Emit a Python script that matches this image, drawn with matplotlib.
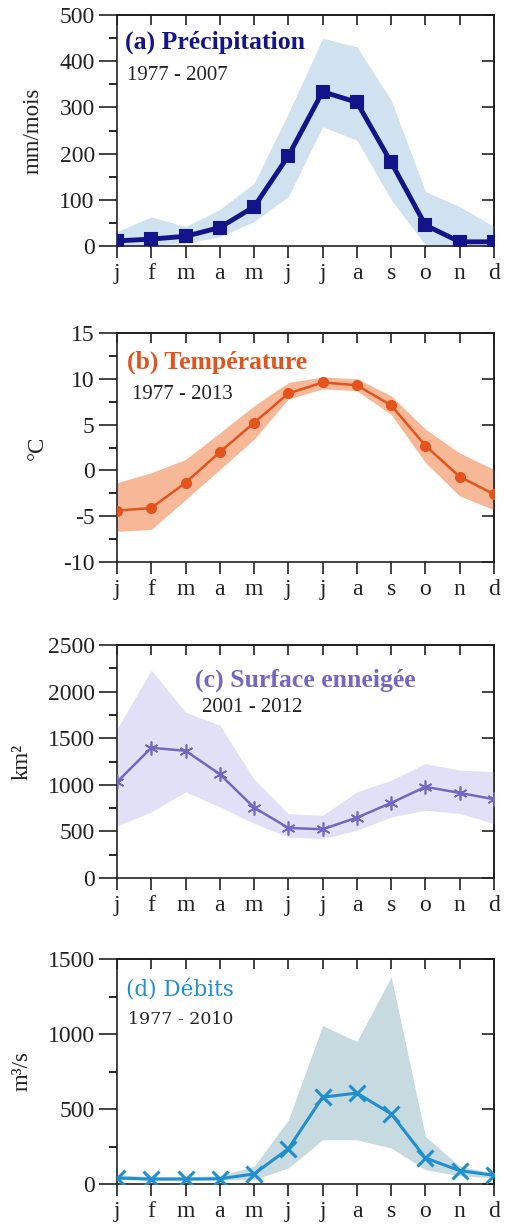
import matplotlib
matplotlib.use('Agg')
import matplotlib.pyplot as plt
import numpy as np
from matplotlib.ticker import MultipleLocator

plt.rcParams['axes.unicode_minus'] = False

months = ['j', 'f', 'm', 'a', 'm', 'j', 'j', 'a', 's', 'o', 'n', 'd']

# (a) precipitation, mm/mois
precip_mean = [11, 15, 21, 40, 85, 195, 334, 311, 181, 45, 9, 9]
precip_high = [31, 63, 42, 79, 136, 287, 450, 431, 316, 118, 85, 42]
precip_low = [0, 2, 6, 20, 53, 107, 258, 229, 100, 2, 0, 0]

# (b) temperature, degC
temp_mean = [-4.4, -4.1, -1.35, 2.0, 5.2, 8.4, 9.6, 9.3, 7.1, 2.7, -0.7, -2.6]
temp_high = [-1.35, -0.25, 1.2, 4.1, 7.05, 9.6, 10.2, 10.0, 8.15, 4.5, 1.9, 0.1]
temp_low = [-6.65, -6.45, -3.2, 0.1, 3.4, 7.8, 8.9, 8.7, 6.1, 0.85, -2.8, -4.3]

# (c) snow cover, km2
snow_mean = [1030, 1397, 1365, 1114, 756, 537, 523, 648, 806, 978, 913, 845]
snow_high = [1600, 2230, 1780, 1640, 1060, 691, 673, 924, 1049, 1228, 1157, 1140]
snow_low = [560, 709, 924, 763, 584, 440, 423, 512, 655, 727, 691, 584]

# (d) discharge, m3/s
flow_mean = [40, 33, 33, 35, 67, 235, 579, 606, 468, 173, 89, 58]
flow_high = [60, 50, 50, 55, 118, 428, 1056, 950, 1382, 317, 118, 73]
flow_low = [30, 25, 25, 28, 29, 107, 295, 295, 240, 95, 55, 40]

serif = 'Liberation Serif'


def panel(ax, mean, low, high, ylim, major, minor, line_c, band_c, marker,
          title, title_pos, period, period_pos, ylabel, label_x,
          tfont=serif, bold=True, lw=2, ms=7, mew=1.5, fs=17, tfs=18.5,
          pfs=15):
    x = np.arange(12)
    ax.fill_between(x, low, high, color=band_c, lw=0, zorder=1)
    ax.plot(x, mean, color=line_c, lw=lw, marker=marker, ms=ms, mew=mew,
            mfc=line_c, mec=line_c, zorder=3)
    ax.set_xlim(0, 11)
    ax.set_ylim(*ylim)
    ax.set_xticks(x)
    ax.set_xticklabels(months, fontfamily=serif, fontsize=fs)
    ax.yaxis.set_major_locator(MultipleLocator(major))
    ax.yaxis.set_minor_locator(MultipleLocator(minor))
    for lab in ax.get_yticklabels():
        lab.set_fontfamily(serif)
        lab.set_fontsize(fs)
    ax.tick_params(axis='y', which='major', direction='out', length=13,
                   width=1.2, right=False, pad=3, colors='#222222')
    ax.tick_params(axis='y', which='minor', direction='out', length=6,
                   width=1.2, right=False)
    ax.tick_params(axis='x', which='major', direction='out', length=8.5,
                   width=1.2, top=False, pad=4, colors='#222222')
    for sp in ax.spines.values():
        sp.set_linewidth(1.2)
        sp.set_color('#222222')
    # inward ticks on top and right
    sy = ax.secondary_yaxis('right')
    sy.yaxis.set_major_locator(MultipleLocator(major))
    sy.tick_params(direction='in', length=8.5, width=1.2, labelright=False,
                   colors='#222222')
    sy.spines['right'].set_linewidth(1.2)
    sx = ax.secondary_xaxis('top')
    sx.set_xticks(x)
    sx.tick_params(direction='in', length=7, width=1.2, labeltop=False,
                   colors='#222222')
    sx.spines['top'].set_linewidth(1.2)

    ax.text(title_pos[0], title_pos[1], title, transform=ax.transAxes,
            color=line_c, fontsize=tfs, fontfamily=tfont,
            fontweight='bold' if bold else 'normal', va='center', ha='left')
    ax.text(period_pos[0], period_pos[1], period, transform=ax.transAxes,
            color='#222222', fontsize=pfs, fontfamily=tfont,
            va='center', ha='left')
    ax.set_ylabel(ylabel, fontfamily=serif, fontsize=fs - 0.5, color='#222222')
    ax.yaxis.set_label_coords(label_x, 0.5)


fig = plt.figure(figsize=(5.07, 12.31), dpi=100)
W, H = 507, 1231
left = 117 / W
width = (494 - 117) / W
boxes = [(15, 246), (333, 562), (645, 878), (959, 1184)]
axes = []
for top, bot in boxes:
    axes.append(fig.add_axes([left, 1 - bot / H, width, (bot - top) / H]))

panel(axes[0], precip_mean, precip_low, precip_high, (0, 500), 100, 50,
      '#14148a', '#d0e2f0', 's', '(a) Précipitation', (0.021, 0.88),
      '1977 - 2007', (0.027, 0.74), 'mm/mois', -0.195, lw=3.5, ms=8)

panel(axes[1], temp_mean, temp_low, temp_high, (-10, 15), 5, 2.5,
      '#e2541c', '#f7b898', 'o', '(b) Température', (0.027, 0.87),
      '1977 - 2013', (0.04, 0.73), '°C', -0.183, lw=1.8, ms=6.5)

panel(axes[2], snow_mean, snow_low, snow_high, (0, 2500), 500, 250,
      '#7566c2', '#e2e0f6', (6, 2, 0), '(c) Surface enneigée', (0.207, 0.85),
      '2001 - 2012', (0.225, 0.73), 'km²', -0.223, lw=1.8, ms=10, mew=1.2)

panel(axes[3], flow_mean, flow_low, flow_high, (0, 1500), 500, 250,
      '#1f8fd0', '#c6dadf', 'x', '(d) Débits', (0.025, 0.86),
      '1977 - 2010', (0.03, 0.73), 'm³/s', -0.225, tfont='DejaVu Serif',
      bold=False, lw=2.2, ms=11, mew=2.2, tfs=15.5, pfs=12.5)

fig.savefig('out.png', dpi=100)
